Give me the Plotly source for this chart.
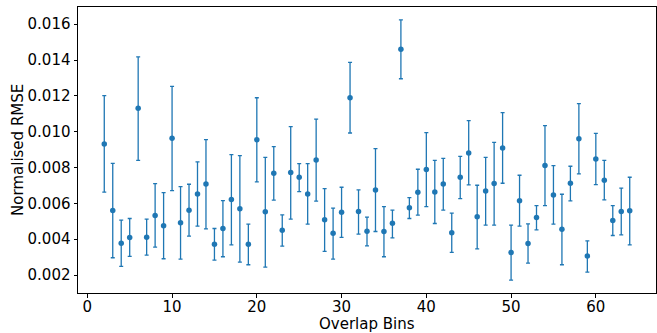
import plotly.graph_objects as go

bins = list(range(2, 65))
rmse = [0.009316, 0.005603, 0.003783, 0.004099, 0.011303, 0.004117, 0.005324, 0.004749,
        0.009632, 0.004916, 0.005621, 0.006531, 0.007088, 0.003727, 0.004600, 0.006215,
        0.005695, 0.003727, 0.009557, 0.005528, 0.007682, 0.004507, 0.007719, 0.007459,
        0.006531, 0.008425, 0.005083, 0.004340, 0.005510, 0.011897, 0.005547, 0.004452,
        0.006754, 0.004433, 0.004897, 0.014607, 0.005751, 0.006624, 0.007886, 0.006642,
        0.007088, 0.004359, 0.007459, 0.008815, 0.005250, 0.006698, 0.007107, 0.009093,
        0.003263, 0.006141, 0.003764, 0.005213, 0.008109, 0.006475, 0.004563, 0.007125,
        0.009613, 0.003059, 0.008480, 0.007292, 0.005046, 0.005547, 0.005584]
upper = [0.012010, 0.008239, 0.005064, 0.005157, 0.014180, 0.005120, 0.007107, 0.006605,
         0.012528, 0.006939, 0.007070, 0.008313, 0.009557, 0.004600, 0.006160, 0.008722,
         0.008666, 0.004841, 0.011897, 0.008573, 0.009167, 0.005361, 0.010281, 0.008221,
         0.008221, 0.010708, 0.006828, 0.005733, 0.006902, 0.013865, 0.006754, 0.005231,
         0.009056, 0.005825, 0.005621, 0.016241, 0.006327, 0.007905, 0.009947, 0.008406,
         0.008518, 0.005454, 0.008629, 0.010616, 0.007014, 0.008573, 0.009409, 0.011061,
         0.004786, 0.007571, 0.004860, 0.005881, 0.010337, 0.008109, 0.006512, 0.008072,
         0.011563, 0.003913, 0.009910, 0.008406, 0.005881, 0.006847, 0.007459]
lower = [0.006624, 0.002966, 0.002483, 0.003040, 0.008406, 0.003115, 0.003560, 0.002910,
         0.006717, 0.002892, 0.004173, 0.004730, 0.004582, 0.002836, 0.003022, 0.003690,
         0.002725, 0.002576, 0.007199, 0.002446, 0.006178, 0.003616, 0.005120, 0.006661,
         0.004841, 0.006122, 0.003319, 0.002892, 0.004099, 0.009929, 0.004284, 0.003635,
         0.004433, 0.003022, 0.004080, 0.012955, 0.005157, 0.005343, 0.005825, 0.004879,
         0.005621, 0.003263, 0.006271, 0.007032, 0.003467, 0.004786, 0.004786, 0.007125,
         0.001722, 0.004730, 0.002669, 0.004526, 0.005881, 0.004841, 0.002576, 0.006141,
         0.007645, 0.002168, 0.007051, 0.006197, 0.004210, 0.004247, 0.003690]

x_title = "Overlap Bins"
y_title = "Normalised RMSE"

err_plus = [u - v for u, v in zip(upper, rmse)]
err_minus = [v - l for v, l in zip(rmse, lower)]

color = "#1f77b4"
fig = go.Figure(go.Scatter(
    x=bins, y=rmse, mode="markers",
    marker=dict(color=color, size=5.5),
    error_y=dict(type="data", symmetric=False, array=err_plus, arrayminus=err_minus,
                 color=color, thickness=1.3, width=2),
    showlegend=False,
))

axis_common = dict(showline=True, linecolor="black", linewidth=1, mirror=True,
                   ticks="outside", ticklen=3.5, tickcolor="black", showgrid=False,
                   zeroline=False, tickfont=dict(family="DejaVu Sans", size=15, color="black"))

fig.update_layout(
    width=657, height=333,
    margin=dict(l=78, r=1, t=7, b=40),
    paper_bgcolor="white", plot_bgcolor="white",
    font=dict(family="DejaVu Sans", color="black", size=15),
    xaxis=dict(range=[-1.1, 67.1], tickvals=[0, 10, 20, 30, 40, 50, 60],
               ticklabelstandoff=-4, **axis_common),
    yaxis=dict(range=[0.0010, 0.01696],
               tickvals=[0.002, 0.004, 0.006, 0.008, 0.010, 0.012, 0.014, 0.016],
               tickformat=".3f", **axis_common),
    annotations=[
        dict(text=x_title, xref="paper", yref="paper", x=0.5, y=-0.07,
             xanchor="center", yanchor="top", showarrow=False,
             font=dict(family="DejaVu Sans", size=15, color="black")),
        dict(text=y_title, xref="paper", yref="paper", x=-0.104, y=0.5,
             xanchor="center", yanchor="middle", textangle=-90, showarrow=False,
             font=dict(family="DejaVu Sans", size=15, color="black")),
    ],
)

fig.write_html("out.html")
